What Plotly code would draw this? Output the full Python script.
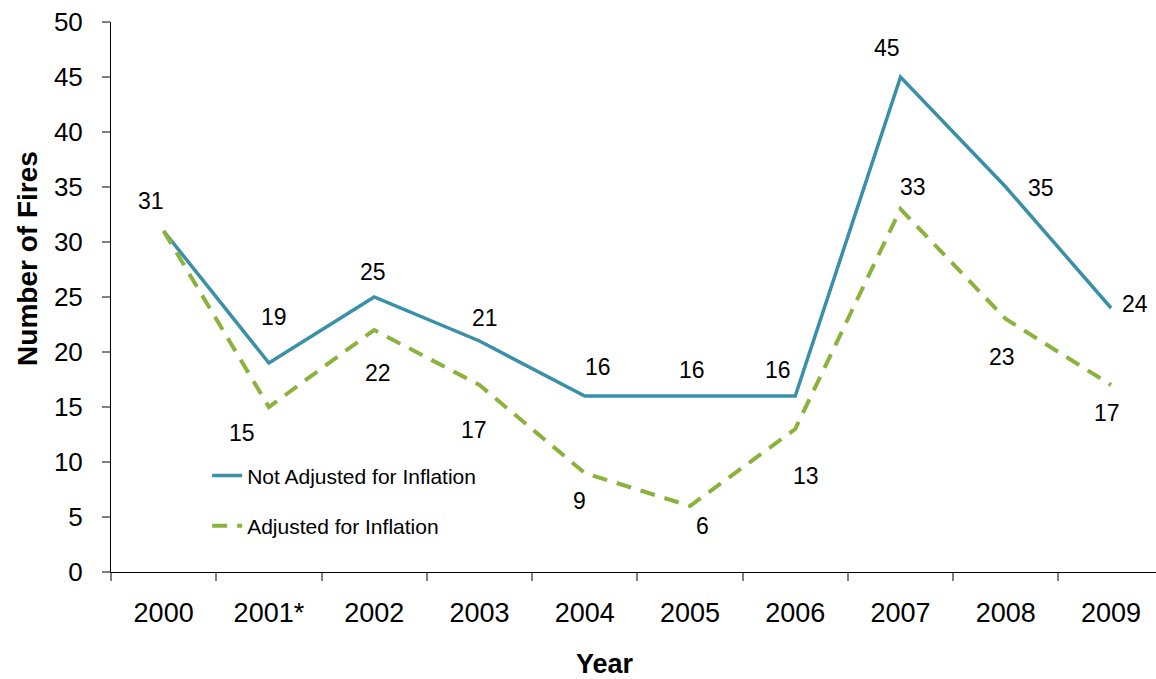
import plotly.graph_objects as go

# Fire counts by year
years = ["2000", "2001*", "2002", "2003", "2004", "2005", "2006", "2007", "2008", "2009"]
not_adjusted = [31, 19, 25, 21, 16, 16, 16, 45, 35, 24]
adjusted = [31, 15, 22, 17, 9, 6, 13, 33, 23, 17]

# Pixel offsets (dx, dy up) for each value label
not_adj_offsets = [(-13, 30), (5, 46), (-1, 25), (6, 23), (13, 29), (2, 26), (-17, 26), (-14, 29), (35, -1), (24, 4)]
adj_offsets = [None, (-27, -26), (4, -43), (-5, -45), (-5, -28), (13, -20), (11, -47), (12, 22), (-4, -38), (-4, -28)]

BLUE = "#3A90A6"
GREEN = "#8BB23C"
FONT = "Arial, Liberation Sans, sans-serif"

fig = go.Figure()
fig.add_trace(go.Scatter(
    x=years, y=not_adjusted, mode="lines", name="Not Adjusted for Inflation",
    line=dict(color=BLUE, width=3.5), legendgroup="a",
))
fig.add_trace(go.Scatter(
    x=years, y=adjusted, mode="lines", name="Adjusted for Inflation",
    line=dict(color=GREEN, width=4, dash="15px,10px"), legendgroup="b",
))

# Value labels; category positions are given by index so that
# numeric-looking year names are not read as coordinates
annotations = []
for i, (v, off) in enumerate(zip(not_adjusted, not_adj_offsets)):
    annotations.append(dict(x=i, y=v, text=str(v), showarrow=False,
                            xshift=off[0], yshift=off[1],
                            font=dict(size=23, color="black", family=FONT)))
for i, (v, off) in enumerate(zip(adjusted, adj_offsets)):
    if off is None:
        continue
    annotations.append(dict(x=i, y=v, text=str(v), showarrow=False,
                            xshift=off[0], yshift=off[1],
                            font=dict(size=23, color="black", family=FONT)))

# Axis titles
annotations.append(dict(xref="paper", yref="paper", x=(605 - 111) / 1045, y=-(664 - 572) / 550,
                        text="<b>Year</b>", showarrow=False, yanchor="middle",
                        font=dict(size=27, color="black", family=FONT)))
annotations.append(dict(xref="paper", yref="paper", x=-0.0805, y=(572 - 258) / 550,
                        text="<b>Number of Fires</b>", textangle=-90, showarrow=False,
                        xanchor="center", yanchor="middle",
                        font=dict(size=28, color="black", family=FONT)))

fig.update_layout(
    width=1156, height=679,
    margin=dict(l=111, r=0, t=22, b=107),
    paper_bgcolor="white", plot_bgcolor="white",
    font=dict(family=FONT, color="black"),
    showlegend=True,
    legend=dict(x=0.092, y=0.212, xanchor="left", yanchor="top",
                bgcolor="rgba(0,0,0,0)", font=dict(size=21, family=FONT),
                tracegroupgap=20),
    annotations=annotations,
)
fig.update_xaxes(
    type="category", range=[-0.5, 9.427],
    showline=True, linecolor="black", linewidth=1,
    ticks="outside", tickson="boundaries", ticklen=8, tickcolor="#808080", tickwidth=2,
    showgrid=False, zeroline=False,
    tickfont=dict(size=27, family=FONT), ticklabelstandoff=17,
)
fig.update_yaxes(
    range=[0, 50], dtick=5, tick0=0,
    showline=True, linecolor="black", linewidth=1,
    ticks="outside", ticklen=8, tickcolor="#808080", tickwidth=2,
    showgrid=False, zeroline=False,
    tickfont=dict(size=26, family=FONT), ticklabelstandoff=14,
)

fig.write_html("out.html")
